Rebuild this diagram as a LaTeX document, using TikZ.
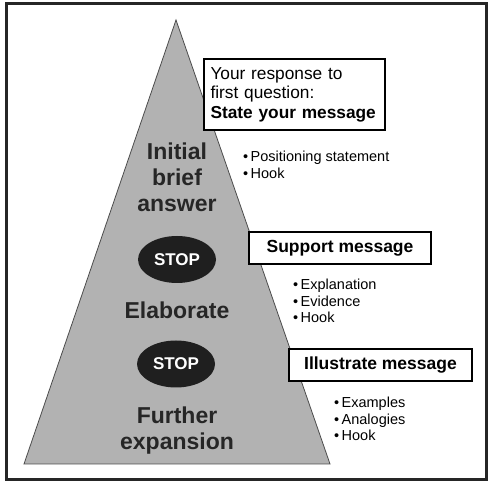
\documentclass[tikz,border=0pt]{standalone}
\usepackage{fontspec}
\setmainfont{Liberation Sans}
\usetikzlibrary{shapes.geometric}

\begin{document}
\begin{tikzpicture}[x=1pt,y=1pt,
  level/.style={font=\fontsize{23}{26}\selectfont\bfseries, align=center, text=black!85},
  stopsign/.style={ellipse, fill=black!88, minimum width=78pt, minimum height=47pt, inner sep=0pt,
    text=white, font=\fontsize{17}{20}\selectfont\bfseries},
  msgbox/.style={draw, line width=2pt, inner sep=0pt, minimum height=32pt,
    font=\fontsize{17.5}{19.5}\selectfont\bfseries},
  points/.style={anchor=west, align=left, inner sep=0pt, font=\fontsize{14.5}{16.5}\selectfont}]
\useasboundingbox (0,0) rectangle (498,484);
\draw[line width=3pt, black!85] (6,4.5) rectangle (486.5,480.5);
% the pyramid
\draw[fill=black!30, draw=black!70, line width=0.8pt] (176,464) -- (24,20) -- (330,20) -- cycle;
\node[level] (answer) at (177,307) {Initial\\brief\\answer};
\node[stopsign] (stop1) at (177,224.5) {STOP};
\node[level] (elaborate) at (177,174) {Elaborate};
\node[stopsign] (stop2) at (176,120) {STOP};
\node[level] (further) at (177,53.5) {Further\\expansion};
% boxes on the right
\node[draw, line width=2pt, fill=white, anchor=north west, minimum width=181pt, minimum height=71pt,
  inner ysep=0pt, inner xsep=6.5pt, align=left, text width=168pt, font=\fontsize{17.3}{19.5}\selectfont] (statebox) at (203,426)
  {Your response to\\first question:\\\textbf{State your message}};
\node[msgbox, fill=white, minimum width=182pt] (supportbox) at (340,236) {Support message};
\node[msgbox, fill=white, minimum width=183pt] (illustratebox) at (380.5,119) {Illustrate message};
% bullet points
\node[points] (list1) at (243,319) {\textbullet\,Positioning statement\\\textbullet\,Hook};
\node[points] (list2) at (293,183) {\textbullet\,Explanation\\\textbullet\,Evidence\\\textbullet\,Hook};
\node[points] (list3) at (334,65) {\textbullet\,Examples\\\textbullet\,Analogies\\\textbullet\,Hook};
\end{tikzpicture}
\end{document}
